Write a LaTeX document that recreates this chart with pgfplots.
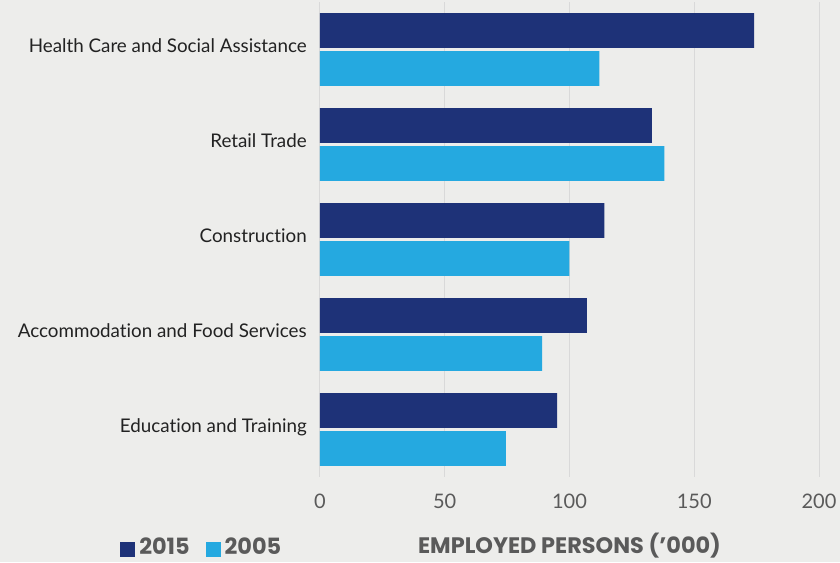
\documentclass[border=0pt]{standalone}
\usepackage{fontspec}
\setmainfont{Lato}[Ligatures=NoCommon]
\newfontfamily\popfont{Poppins}
\usepackage{pgfplots}
\usepackage{pgfplotstable}
\pgfplotsset{compat=1.18}

\definecolor{bgc}{HTML}{EDEDEB}
\definecolor{navyc}{HTML}{1E3278}
\definecolor{skyc}{HTML}{25A9E0}
\definecolor{gridc}{HTML}{D9D9D9}
\definecolor{tickc}{HTML}{5A5A5A}
\definecolor{labc}{HTML}{222222}

% employed persons ('000), by industry
\pgfplotstableread{
idx v2015 v2005
0   174   112
1   133   138
2   114   100
3   107   89
4   95    74.5
}\jobs

\begin{document}
\begin{tikzpicture}
\fill[bgc] (0,0) rectangle (630pt,421.5pt);
\useasboundingbox (0,0) rectangle (630pt,421.5pt);
\begin{axis}[
  at={(240pt,63.75pt)}, anchor=south west,
  scale only axis, width=374.25pt, height=356.25pt,
  xmin=0, xmax=200, ymin=-0.5, ymax=4.5, y dir=reverse,
  xbar, bar width=0.365,
  axis line style={draw=none},
  major tick length=0pt,
  xtick={0,50,...,200},
  ytick={0,...,4},
  yticklabels={Health Care and Social Assistance, Retail Trade, Construction,
    Accommodation and Food Services, Education and Training},
  xmajorgrids, major grid style={gridc, line width=0.75pt},
  x tick label style={font=\fontsize{15pt}{18pt}\selectfont, text=tickc, inner sep=0pt},
  xticklabel shift=12.75pt,
  y tick label style={font=\fontsize{14.1pt}{17pt}\selectfont, text=labc, inner sep=0pt,
    anchor=base east, yshift=-2pt},
  yticklabel shift=9.75pt,
  /pgf/number format/assume math mode=true,
  xlabel={EMPLOYED PERSONS (’000)},
  x label style={at={(axis description cs:0.5,0)}, anchor=base, yshift=-57pt,
    font=\popfont\bfseries\fontsize{16.8pt}{20pt}\selectfont, text=tickc},
  legend style={at={(axis description cs:-0.4008,-0.1475)}, anchor=west,
    draw=none, fill=none, inner sep=0pt,
    font=\popfont\bfseries\fontsize{16.8pt}{20pt}\selectfont, text=tickc,
    nodes={inner sep=0pt},
    /tikz/every odd column/.append style={column sep=3pt},
    /tikz/every even column/.append style={column sep=12pt}},
  legend columns=-1,
  legend image code/.code={\fill (0pt,-7.5pt) rectangle (11.25pt,3.75pt);},
]
\addplot[fill=navyc, draw=none, bar shift=-0.2] table[x=v2015, y=idx] {\jobs};
\addplot[fill=skyc, draw=none, bar shift=0.2] table[x=v2005, y=idx] {\jobs};
\legend{2015, 2005}
\end{axis}
\end{tikzpicture}
\end{document}
